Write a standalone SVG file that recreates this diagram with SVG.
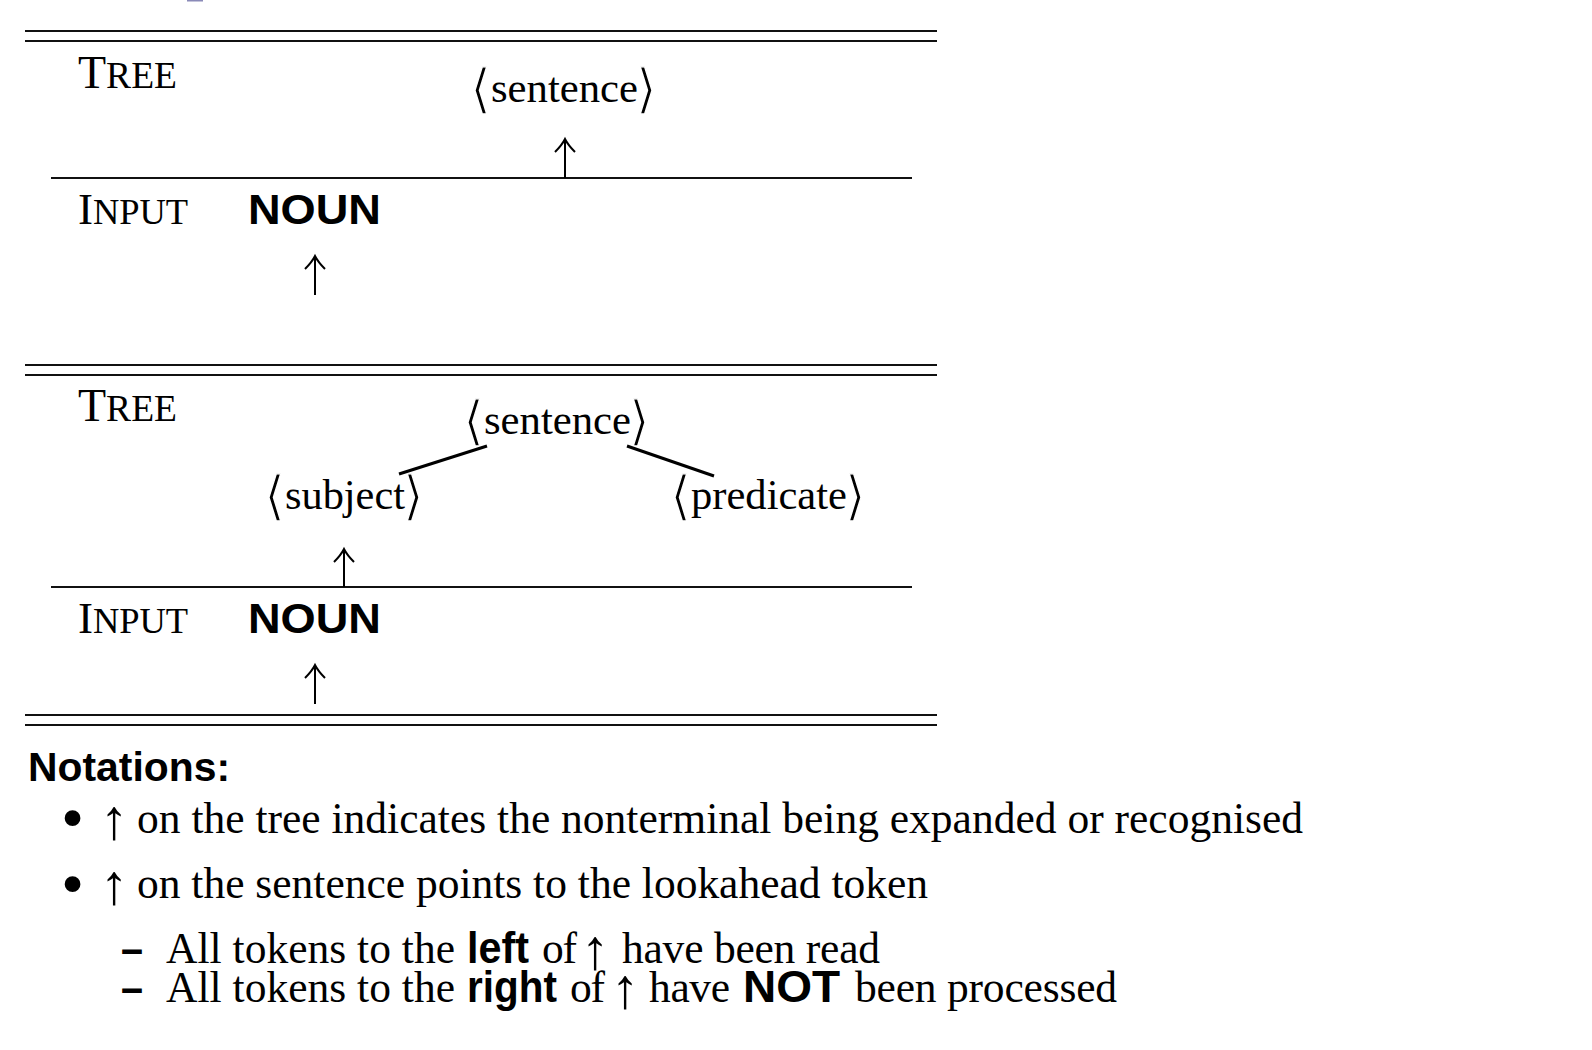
<svg xmlns="http://www.w3.org/2000/svg" width="1592" height="1050" viewBox="0 0 1592 1050">
<style>
.rule{stroke:#111;stroke-width:2;fill:none}
.serif{font-family:"Liberation Serif","DejaVu Serif",serif;fill:#000}
.sans{font-family:"Liberation Sans","DejaVu Sans",sans-serif;font-weight:bold;fill:#000}
.node{font-size:42.6px}
.brk{font-size:53px;stroke:#fff;stroke-width:1.3px}
.body{font-size:43.5px}
.arr{font-size:56.5px}
.edge{stroke:#000;stroke-width:3;fill:none;stroke-linecap:butt}
.ptr{stroke:#000;stroke-width:2;fill:none}
</style>
<defs>
<path id="uparrow-head" d="M-10,13 Q-3,6 0,0 Q3,6 10,13"/>
</defs>
<rect x="0" y="0" width="1592" height="1050" fill="#fff"/>
<rect x="187" y="0" width="16" height="1.5" fill="#8a8ab8"/>

<g id="rules" class="rule">
<line x1="25" y1="31" x2="937" y2="31"/>
<line x1="25" y1="41" x2="937" y2="41"/>
<line x1="51" y1="178" x2="912" y2="178"/>
<line x1="25" y1="365" x2="937" y2="365"/>
<line x1="25" y1="375" x2="937" y2="375"/>
<line x1="51" y1="587" x2="912" y2="587"/>
<line x1="25" y1="715" x2="937" y2="715"/>
<line x1="25" y1="725" x2="937" y2="725"/>
</g>

<g id="label-tree-1"><text class="serif" x="78" y="88" textLength="99" lengthAdjust="spacing"><tspan font-size="46">T</tspan><tspan font-size="37.5">REE</tspan></text></g>
<g id="label-input-1"><text class="serif" x="78" y="224" textLength="110" lengthAdjust="spacing"><tspan font-size="45">I</tspan><tspan font-size="36.5">NPUT</tspan></text></g>
<g id="label-tree-2"><text class="serif" x="78" y="421" textLength="99" lengthAdjust="spacing"><tspan font-size="46">T</tspan><tspan font-size="37.5">REE</tspan></text></g>
<g id="label-input-2"><text class="serif" x="78" y="633" textLength="110" lengthAdjust="spacing"><tspan font-size="45">I</tspan><tspan font-size="36.5">NPUT</tspan></text></g>

<g id="node-sentence-1" class="serif node">
<text class="brk" x="491" y="107" text-anchor="end">⟨</text>
<text x="491" y="102" textLength="147" lengthAdjust="spacingAndGlyphs">sentence</text>
<text class="brk" x="636" y="107">⟩</text>
</g>
<g id="node-noun-1"><text class="sans" x="248" y="224" font-size="42" textLength="133" lengthAdjust="spacingAndGlyphs">NOUN</text></g>

<g id="node-sentence-2" class="serif node">
<text class="brk" x="484" y="439" text-anchor="end">⟨</text>
<text x="484" y="434" textLength="147" lengthAdjust="spacingAndGlyphs">sentence</text>
<text class="brk" x="629" y="439">⟩</text>
</g>
<g id="node-subject" class="serif node">
<text class="brk" x="285" y="514" text-anchor="end">⟨</text>
<text x="285" y="509" textLength="120" lengthAdjust="spacingAndGlyphs">subject</text>
<text class="brk" x="403" y="514">⟩</text>
</g>
<g id="node-predicate" class="serif node">
<text class="brk" x="691" y="514" text-anchor="end">⟨</text>
<text x="691" y="509" textLength="156" lengthAdjust="spacingAndGlyphs">predicate</text>
<text class="brk" x="845" y="514">⟩</text>
</g>
<g id="node-noun-2"><text class="sans" x="248" y="633" font-size="42" textLength="133" lengthAdjust="spacingAndGlyphs">NOUN</text></g>

<g id="connectors">
<line class="edge" x1="487" y1="446" x2="399" y2="474"/>
<line class="edge" x1="627" y1="446" x2="714" y2="476"/>
<g class="ptr">
<line x1="565" y1="139" x2="565" y2="178"/><use href="#uparrow-head" x="565" y="139"/>
<line x1="315" y1="256" x2="315" y2="295"/><use href="#uparrow-head" x="315" y="256"/>
<line x1="344" y1="549" x2="344" y2="587"/><use href="#uparrow-head" x="344" y="549"/>
<line x1="315" y1="665" x2="315" y2="704"/><use href="#uparrow-head" x="315" y="665"/>
</g>
</g>

<g id="notes">
<text class="sans" x="28" y="781" font-size="41" textLength="202" lengthAdjust="spacingAndGlyphs">Notations:</text>
<g id="note-1" class="serif body">
<text x="61" y="840" font-size="66">•</text>
<text class="arr" x="100" y="839">↑</text>
<text x="137" y="833" textLength="1166" lengthAdjust="spacing">on the tree indicates the nonterminal being expanded or recognised</text>
</g>
<g id="note-2" class="serif body">
<text x="61" y="906" font-size="66">•</text>
<text class="arr" x="100" y="904">↑</text>
<text x="137" y="898" textLength="791" lengthAdjust="spacing">on the sentence points to the lookahead token</text>
</g>
<g id="note-2a" class="body">
<text class="sans" x="121" y="964" font-size="43.5" textLength="22" lengthAdjust="spacingAndGlyphs">–</text>
<text class="serif" x="166" y="963" textLength="289" lengthAdjust="spacing">All tokens to the</text>
<text class="sans" x="467" y="963" font-size="43.5" textLength="62" lengthAdjust="spacingAndGlyphs">left</text>
<text class="serif" x="542" y="963" textLength="35" lengthAdjust="spacing">of</text>
<text class="serif arr" x="581" y="969">↑</text>
<text class="serif" x="622" y="963" textLength="258" lengthAdjust="spacing">have been read</text>
</g>
<g id="note-2b" class="body">
<text class="sans" x="121" y="1003" font-size="43.5" textLength="22" lengthAdjust="spacingAndGlyphs">–</text>
<text class="serif" x="166" y="1002" textLength="289" lengthAdjust="spacing">All tokens to the</text>
<text class="sans" x="467" y="1002" font-size="43.5" textLength="90" lengthAdjust="spacingAndGlyphs">right</text>
<text class="serif" x="570" y="1002" textLength="35" lengthAdjust="spacing">of</text>
<text class="serif arr" x="611" y="1008">↑</text>
<text class="serif" x="649" y="1002" textLength="81" lengthAdjust="spacing">have</text>
<text class="sans" x="743" y="1002" font-size="43.5" textLength="97" lengthAdjust="spacingAndGlyphs">NOT</text>
<text class="serif" x="855" y="1002" textLength="262" lengthAdjust="spacing">been processed</text>
</g>
</g>
</svg>
